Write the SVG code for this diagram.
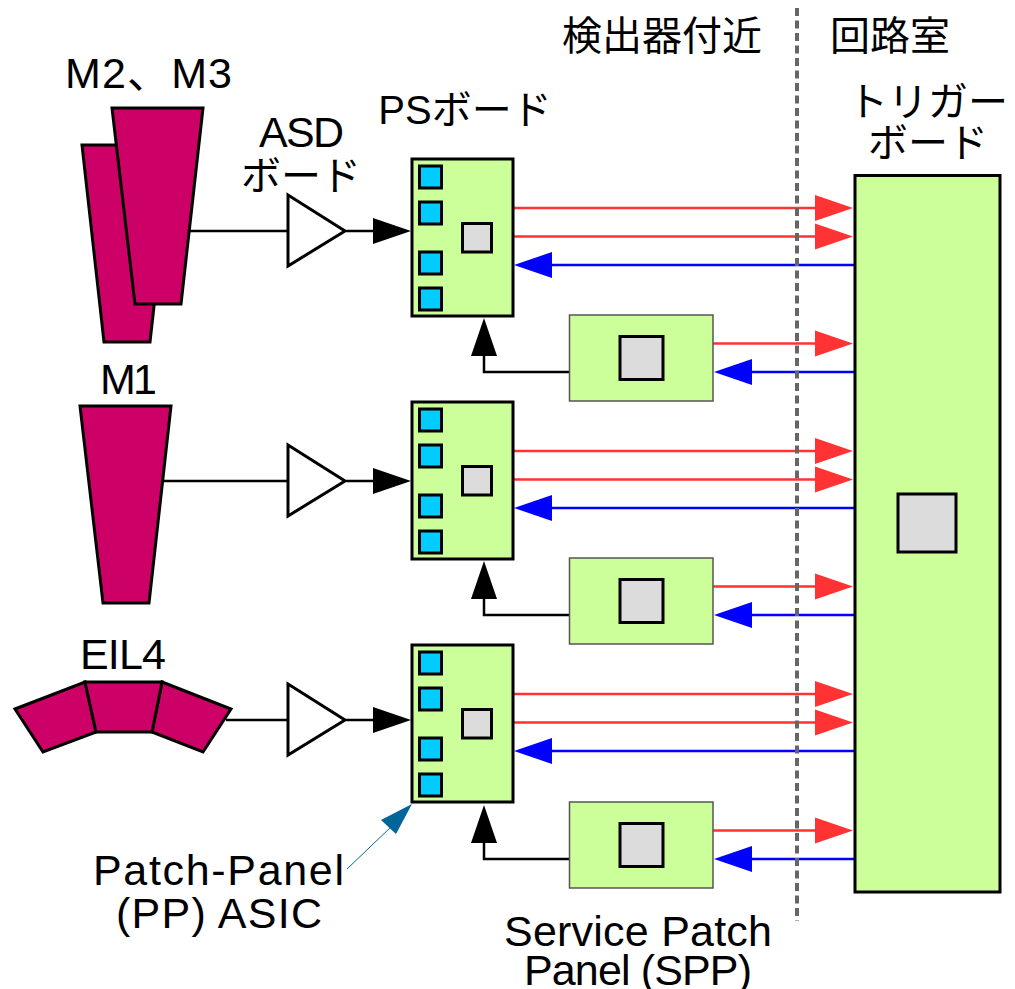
<svg xmlns="http://www.w3.org/2000/svg" xmlns:xlink="http://www.w3.org/1999/xlink" width="1015" height="989" viewBox="0 0 1015 989">
<style>
text{font-family:"Liberation Sans","Noto Sans CJK JP",sans-serif;font-size:40px;fill:#000;text-anchor:middle}
.lat{font-size:43px}
.det{fill:#cc0066;stroke:#000;stroke-width:3;stroke-linejoin:miter}
.amp{fill:#fff;stroke:#000;stroke-width:3}
.board{fill:#ccff99;stroke:#000;stroke-width:3}
.spp{fill:#ccff99;stroke:#555;stroke-width:1.5}
.chip{fill:#dcdcdc;stroke:#000;stroke-width:3}
.pp{fill:#00ccff;stroke:#000;stroke-width:3}
.k{fill:none;stroke:#000;stroke-width:2.5}
.r{fill:none;stroke:#ff3333;stroke-width:2.5}
.b{fill:none;stroke:#0000ff;stroke-width:2.5}
.rh{fill:#ff3333}.bh{fill:#0000ff}.kh{fill:#000}
</style>
<defs>
<g id="ps">
<rect class="board" x="412" y="159" width="101" height="157"/>
<rect class="pp" x="419.500" y="166" width="22" height="22"/>
<rect class="pp" x="419.500" y="202" width="22" height="22"/>
<rect class="pp" x="419.500" y="252" width="22" height="22"/>
<rect class="pp" x="419.500" y="288" width="22" height="22"/>
<rect class="chip" x="462.500" y="223.500" width="29" height="28.500"/>
</g>
<g id="sp">
<rect class="spp" x="569.500" y="315" width="143.500" height="86"/>
<rect class="chip" x="620" y="336.500" width="43" height="43"/>
</g>
<polygon id="rh" class="rh" points="815,-13 853,0 815,13"/>
<polygon id="bh" class="bh" points="0,0 38,-13 38,13"/>
</defs>

<g id="connectors">
<path class="k" d="M189 231H288M346 231H375M162 481H288M346 481H375M226 720H288M346 720H375"/>
<polygon class="kh" points="373,218 411,231 373,244"/>
<polygon class="kh" points="373,468 411,481 373,494"/>
<polygon class="kh" points="373,707 411,720 373,733"/>
<path class="k" d="M569 372H484V354M569 615H484V597M569 859H484V841"/>
<polygon class="kh" points="471,356 484,318 497,356"/>
<polygon class="kh" points="471,599 484,561 497,599"/>
<polygon class="kh" points="471,843 484,805 497,843"/>
<path class="r" d="M513 208H820M513 236.500H820M713 343.500H820M513 451H820M513 479.500H820M713 586.500H820M513 694H820M513 722.500H820M713 830.500H820"/>
<use xlink:href="#rh" href="#rh" y="208"/><use xlink:href="#rh" href="#rh" y="236.500"/><use xlink:href="#rh" href="#rh" y="343.500"/>
<use xlink:href="#rh" href="#rh" y="451"/><use xlink:href="#rh" href="#rh" y="479.500"/><use xlink:href="#rh" href="#rh" y="586.500"/>
<use xlink:href="#rh" href="#rh" y="694"/><use xlink:href="#rh" href="#rh" y="722.500"/><use xlink:href="#rh" href="#rh" y="830.500"/>
<path class="b" d="M855 265H548M855 372H750M855 508H548M855 615H750M855 751H548M855 859H750"/>
<use xlink:href="#bh" href="#bh" x="514" y="265"/><use xlink:href="#bh" href="#bh" x="714" y="372"/>
<use xlink:href="#bh" href="#bh" x="514" y="508"/><use xlink:href="#bh" href="#bh" x="714" y="615"/>
<use xlink:href="#bh" href="#bh" x="514" y="751"/><use xlink:href="#bh" href="#bh" x="714" y="859"/>
<path fill="none" stroke="#006699" stroke-width="1" d="M347 869L392 826"/>
<polygon fill="#006699" points="412,804 396,834 381,820"/>
<path fill="none" stroke="#666" stroke-width="4" stroke-dasharray="8 4.500" d="M797 8V921"/>
</g>

<g id="det-m1-back"><polygon class="det" points="82,145 172,145 150,342 104,342"/></g>
<g id="det-m2m3"><polygon class="det" points="112,108 203,108 181,304 135,304"/></g>
<g id="det-m1"><polygon class="det" points="80,406 171,406 149,603 103,603"/></g>
<g id="det-eil4">
<polygon class="det" points="15,709 85,682 96,732 43,752"/>
<polygon class="det" points="162,682 231,709 203,752 152,732"/>
<polygon class="det" points="85,682 162,682 152,732 96,732"/>
</g>

<g id="asd1"><polygon class="amp" points="288,195 345,231 288,266"/></g>
<g id="asd2"><polygon class="amp" points="288,445 345,481 288,516"/></g>
<g id="asd3"><polygon class="amp" points="288,684 345,720 288,755"/></g>

<g id="ps1"><use xlink:href="#ps" href="#ps"/></g>
<g id="ps2"><use xlink:href="#ps" href="#ps" y="243"/></g>
<g id="ps3"><use xlink:href="#ps" href="#ps" y="486"/></g>
<g id="spp1"><use xlink:href="#sp" href="#sp"/></g>
<g id="spp2"><use xlink:href="#sp" href="#sp" y="243"/></g>
<g id="spp3"><use xlink:href="#sp" href="#sp" y="487"/></g>
<g id="trigger">
<rect class="board" x="855" y="175.500" width="145" height="716.500"/>
<rect class="chip" x="898" y="494" width="58" height="58"/>
</g>

<g id="labels">
<text class="lat" x="148.500" y="88" textLength="167">M2、M3</text>
<text class="lat" x="128.500" y="394" textLength="57">M1</text>
<text class="lat" x="123" y="669" textLength="86">EIL4</text>
<text class="lat" x="301.500" y="147" textLength="85">ASD</text>
<text x="301" y="190">ボード</text>
<text x="465" y="124">PSボード</text>
<text x="662" y="50">検出器付近</text>
<text x="890" y="50">回路室</text>
<text x="928" y="116">トリガー</text>
<text x="928" y="157">ボード</text>
<text class="lat" x="218.500" y="885" textLength="251">Patch-Panel</text>
<text class="lat" x="219" y="928" textLength="206">(PP) ASIC</text>
<text class="lat" x="638" y="946" textLength="268">Service Patch</text>
<text class="lat" x="638" y="985" textLength="228">Panel (SPP)</text>
</g>
</svg>
